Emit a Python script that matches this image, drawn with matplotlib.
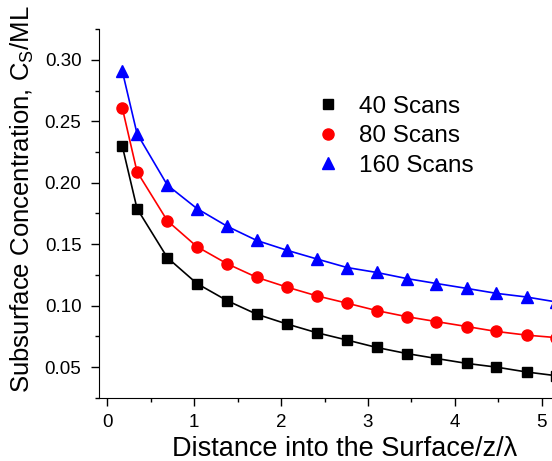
"""
Subsurface concentration vs distance into the surface
"""
import matplotlib
matplotlib.use('Agg')
import matplotlib.pyplot as plt
from matplotlib.ticker import MultipleLocator

plt.rcParams['font.family'] = ['Liberation Sans', 'DejaVu Sans']
plt.rcParams['mathtext.fontset'] = 'custom'
plt.rcParams['mathtext.rm'] = 'Liberation Sans'
plt.rcParams['mathtext.it'] = 'Liberation Sans'

# data
depth = [0.17, 0.34, 0.69, 1.03, 1.38, 1.72, 2.07, 2.41, 2.76, 3.10,
         3.45, 3.79, 4.14, 4.48, 4.83, 5.17]
scans_40 = [0.230, 0.179, 0.139, 0.118, 0.104, 0.093, 0.085, 0.078, 0.072, 0.066,
            0.061, 0.057, 0.053, 0.050, 0.046, 0.043]
scans_80 = [0.261, 0.209, 0.169, 0.148, 0.134, 0.123, 0.115, 0.108, 0.102, 0.096,
            0.091, 0.087, 0.083, 0.079, 0.076, 0.074]
scans_160 = [0.291, 0.240, 0.198, 0.179, 0.1645, 0.153, 0.145, 0.138, 0.131, 0.127,
             0.122, 0.118, 0.114, 0.110, 0.107, 0.103]
labels = ['40 Scans', '80 Scans', '160 Scans']

fig = plt.figure(figsize=(5.52, 4.61), dpi=100)
ax = fig.add_axes([0.179, 0.137, 0.8335, 0.800])

ax.plot(depth, scans_40, color='black', lw=1.2)
ax.plot(depth, scans_80, color='red', lw=1.2)
ax.plot(depth, scans_160, color='blue', lw=1.2)
ax.plot(depth, scans_40, ls='none', marker='s', ms=7, color='black', label=labels[0])
ax.plot(depth, scans_80, ls='none', marker='o', ms=8, color='red', label=labels[1])
ax.plot(depth, scans_160, ls='none', marker='^', ms=8.5, color='blue', label=labels[2])

ax.set_xlim(-0.1, 5.2)
ax.set_ylim(0.025, 0.325)
ax.xaxis.set_major_locator(MultipleLocator(1))
ax.xaxis.set_minor_locator(MultipleLocator(0.5))
ax.yaxis.set_major_locator(MultipleLocator(0.05))
ax.yaxis.set_minor_locator(MultipleLocator(0.025))
ax.yaxis.set_major_formatter(matplotlib.ticker.FormatStrFormatter('%.2f'))

for s in ['top', 'right']:
    ax.spines[s].set_visible(False)
ax.tick_params(which='major', direction='out', length=5.5, width=1, labelsize=13.5)
ax.tick_params(which='minor', direction='out', length=3, width=1)
ax.tick_params(axis='y', which='major', pad=7)
ax.tick_params(axis='x', which='major', pad=6)

ax.set_xlabel('Distance into the Surface/z/λ', fontsize=19.5)
ax.set_ylabel('Subsurface Concentration, C$_S$/ML', fontsize=18.5)
ax.xaxis.set_label_coords(0.535, -0.103)
ax.yaxis.set_label_coords(-0.137, 0.54)

ax.legend(loc='upper left', bbox_to_anchor=(0.418, 0.878), frameon=False, fontsize=17.5,
          handletextpad=0.7, labelspacing=0.3, handlelength=1.2)

plt.savefig('out.png', dpi=100)
